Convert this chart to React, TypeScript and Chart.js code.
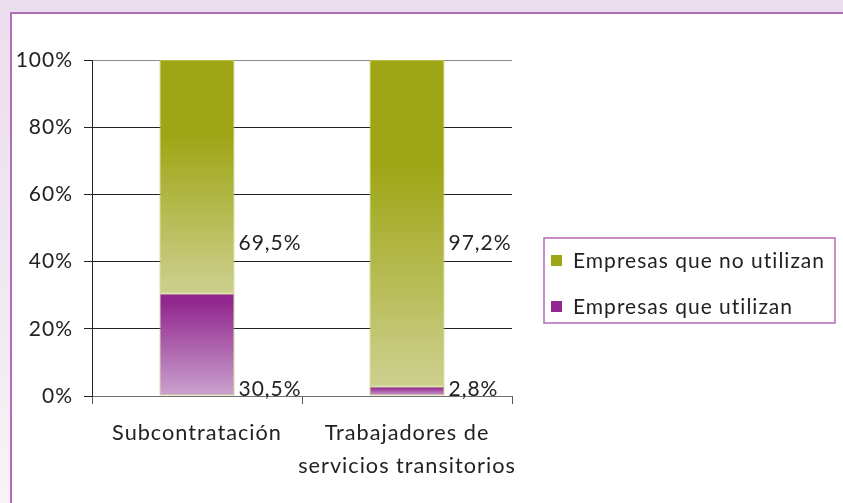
import React, { useEffect, useRef } from "react";
import { Chart, registerables } from "chart.js";

Chart.register(...registerables);

const categories: (string | string[])[] = ["Subcontratación", ["Trabajadores de", "servicios transitorios"]];
const utilizan: number[] = [30.5, 2.8];
const noUtilizan: number[] = [69.5, 97.2];
const yTicks: number[] = [0, 20, 40, 60, 80, 100];
const seriesLabels: string[] = ["Empresas que utilizan", "Empresas que no utilizan"];

const FONT = "Lato";
const TEXT = "#222222";
const PURPLE = "#92278f";
const GREEN = "#9fa616";

const fmt = (v: number) => v.toFixed(1).replace(".", ",") + "%";

function grad(ctx: CanvasRenderingContext2D, top: number, bottom: number, stops: [number, string][], fallback: string) {
  if (!isFinite(top) || !isFinite(bottom) || top === bottom) return fallback;
  const g = ctx.createLinearGradient(0, top, 0, bottom);
  stops.forEach(([o, c]) => g.addColorStop(o, c));
  return g;
}

const spacingPlugin = {
  id: "spacing",
  beforeDraw(chart: any) {
    chart.ctx.letterSpacing = "1px";
  },
};

const labelPlugin = {
  id: "barLabels",
  afterDatasetsDraw(chart: any) {
    const ctx = chart.ctx;
    const y = chart.scales.y;
    ctx.save();
    ctx.letterSpacing = "1px";
    ctx.font = `21px ${FONT}`;
    ctx.fillStyle = TEXT;
    ctx.textAlign = "left";
    chart.data.datasets.forEach((ds: any, di: number) => {
      const meta = chart.getDatasetMeta(di);
      meta.data.forEach((bar: any, i: number) => {
        const x = bar.x + bar.width / 2 + 4;
        if (di === 0) {
          ctx.textBaseline = "alphabetic";
          ctx.fillText(fmt(ds.data[i]), x, y.getPixelForValue(0));
        } else {
          ctx.textBaseline = "middle";
          ctx.fillText(fmt(ds.data[i]), x, y.getPixelForValue(45.5));
        }
      });
    });
    ctx.restore();
  },
};

const legendPlugin = {
  id: "boxLegend",
  afterDraw(chart: any) {
    const ctx = chart.ctx;
    const a = chart.chartArea;
    const left = a.right + 32;
    const top = 238;
    const w = 291;
    const h = 85;
    ctx.save();
    ctx.strokeStyle = "#b36ab8";
    ctx.lineWidth = 1.5;
    ctx.strokeRect(left, top, w, h);
    const items = [
      { label: seriesLabels[1], color: GREEN },
      { label: seriesLabels[0], color: PURPLE },
    ];
    ctx.font = `21px ${FONT}`;
    ctx.letterSpacing = "1px";
    ctx.textBaseline = "middle";
    ctx.textAlign = "left";
    items.forEach((it, k) => {
      const cy = top + 17 + 6 + k * 46;
      ctx.fillStyle = it.color;
      ctx.fillRect(left + 7, cy - 6, 11, 11);
      ctx.fillStyle = TEXT;
      ctx.fillText(it.label, left + 29, cy);
    });
    ctx.restore();
  },
};

export default function App() {
  const ref = useRef<HTMLCanvasElement>(null);
  useEffect(() => {
    document.body.style.margin = "0";
    const canvas = ref.current!;
    const chart = new Chart(canvas, {
      type: "bar",
      data: {
        labels: categories as any,
        datasets: [
          {
            label: seriesLabels[0],
            data: utilizan,
            backgroundColor: (c: any) => {
              const y = c.chart.scales?.y;
              if (!y || c.type !== "data") return PURPLE;
              const i = c.dataIndex;
              const t = y.getPixelForValue(utilizan[i]);
              const b = y.getPixelForValue(0);
              return grad(c.chart.ctx, t, b, [
                [0, "#92278f"],
                [0.08, "#92278f"],
                [1, "#caa3ce"],
              ], PURPLE);
            },
            borderColor: "#b3b84a",
            borderWidth: 1,
            borderSkipped: false,
            barPercentage: 0.357,
            categoryPercentage: 1,
          },
          {
            label: seriesLabels[1],
            data: noUtilizan,
            backgroundColor: (c: any) => {
              const y = c.chart.scales?.y;
              if (!y || c.type !== "data") return GREEN;
              const i = c.dataIndex;
              const t = y.getPixelForValue(utilizan[i] + noUtilizan[i]);
              const b = y.getPixelForValue(utilizan[i]);
              return grad(c.chart.ctx, t, b, [
                [0, "#9fa616"],
                [0.33, "#9fa616"],
                [1, "#cdd08f"],
              ], GREEN);
            },
            borderColor: "#b9c04a",
            borderWidth: 1,
            borderSkipped: false,
            barPercentage: 0.357,
            categoryPercentage: 1,
          },
        ],
      },
      options: {
        animation: false,
        responsive: false,
        devicePixelRatio: 1,
        layout: { padding: { left: 0, right: 331, top: 60, bottom: 0 } },
        plugins: {
          legend: { display: false },
          tooltip: { enabled: false },
        },
        scales: {
          x: {
            stacked: true,
            grid: {
              offset: true,
              drawOnChartArea: false,
              drawTicks: true,
              tickLength: 8,
              tickColor: "#555555",
            },
            border: { display: true, color: "#707070", width: 1 },
            ticks: {
              color: TEXT,
              padding: 12,
              maxRotation: 0,
              autoSkip: false,
              font: { family: FONT, size: 21.7, lineHeight: 1.55 },
            },
            afterFit: (s: any) => {
              s.height = 107;
            },
          },
          y: {
            stacked: true,
            min: 0,
            max: 100,
            afterBuildTicks: (s: any) => {
              s.ticks = yTicks.map((v) => ({ value: v }));
            },
            grid: {
              color: (c: any) => (c.tick && c.tick.value === 100 ? "#8a8a8a" : "#222222"),
              tickLength: 8,
              tickColor: "#222222",
            },
            border: { display: true, color: "#222222", width: 1 },
            ticks: {
              color: TEXT,
              padding: 11,
              callback: (v: any) => v + "%",
              font: { family: FONT, size: 21 },
            },
            afterFit: (s: any) => {
              s.width = 92;
            },
          },
        },
      },
      plugins: [spacingPlugin, labelPlugin, legendPlugin],
    });
    return () => chart.destroy();
  }, []);

  return (
    <div
      style={{
        position: "fixed",
        left: 0,
        top: 0,
        width: 843,
        height: 503,
        overflow: "hidden",
        background: "linear-gradient(180deg, #ebdded 0%, #f1e8f2 60%, #f8f3f8 100%)",
      }}
    >
      <div
        style={{
          position: "absolute",
          left: 10,
          top: 12,
          width: 900,
          height: 600,
          background: "#ffffff",
          border: "2px solid #b36db8",
        }}
      />
      <canvas ref={ref} width={843} height={503} style={{ position: "absolute", left: 0, top: 0 }} />
    </div>
  );
}
